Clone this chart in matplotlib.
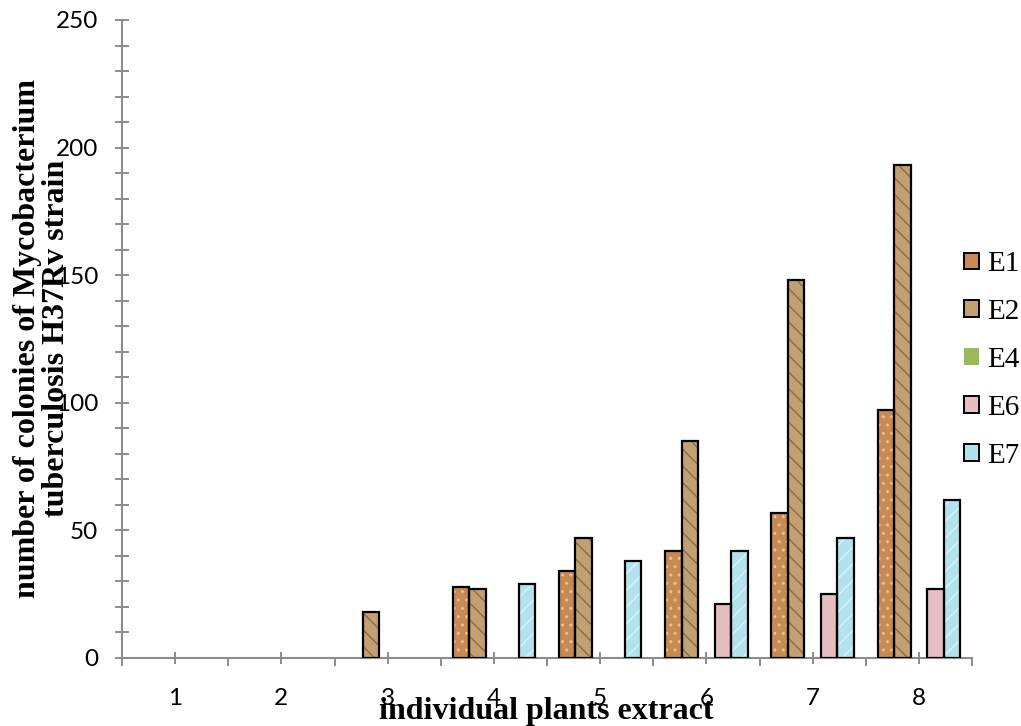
import matplotlib
matplotlib.use("Agg")
import matplotlib.pyplot as plt
import numpy as np
from matplotlib.ticker import MultipleLocator, FixedLocator
from matplotlib.patches import Patch

# ---- data ----
categories = ["1", "2", "3", "4", "5", "6", "7", "8"]
series_names = ["E1", "E2", "E4", "E6", "E7"]
E1 = [0, 0, 0, 28, 34, 42, 57, 97]
E2 = [0, 0, 18, 27, 47, 85, 148, 193]
E4 = [0, 0, 0, 0, 0, 0, 0, 0]
E6 = [0, 0, 0, 0, 0, 21, 25, 27]
E7 = [0, 0, 0, 29, 38, 42, 47, 62]
series_values = [E1, E2, E4, E6, E7]

face_colors = ["#C88A55", "#C3A074", "#9BBB59", "#E6BDC0", "#B2E2EE"]
hatch_colors = ["#EDC08F", "#8E6A43", "#9BBB59", "#EFCFD2", "#DDF3F8"]
hatches = ["..", "\\\\", None, None, "//"]

W, H = 1021, 726
fig = plt.figure(figsize=(W / 100, H / 100), dpi=100)
ax = fig.add_axes([122 / W, (H - 658) / H, 850 / W, (658 - 20) / H])

x = np.arange(len(categories))
bw = 0.155
for k, (vals, fc, hc, ht) in enumerate(zip(series_values, face_colors, hatch_colors, hatches)):
    pos = x + (k - 2) * bw
    plot_vals = np.array(vals, dtype=float)
    mask = plot_vals > 0
    if k == 2 or not mask.any():
        continue
    ax.bar(pos[mask], plot_vals[mask], width=bw, color=fc, edgecolor=hc if ht else fc,
           hatch=ht, linewidth=0, zorder=2)
    ax.bar(pos[mask], plot_vals[mask], width=bw, fill=False, edgecolor="black",
           linewidth=1.6, zorder=3)

ax.set_xlim(-0.5, 7.5)
ax.set_ylim(0, 250)

gray = "#8C8C8C"
for s in ["top", "right"]:
    ax.spines[s].set_visible(False)
for s in ["left", "bottom"]:
    ax.spines[s].set_color(gray)
    ax.spines[s].set_linewidth(1.5)

ax.yaxis.set_major_locator(MultipleLocator(50))
ax.yaxis.set_minor_locator(MultipleLocator(10))
ax.tick_params(axis="y", which="both", direction="inout", length=10, width=1.4, color=gray)
ax.tick_params(axis="y", which="major", pad=12, labelsize=17.5)

ax.xaxis.set_major_locator(FixedLocator(x))
ax.xaxis.set_minor_locator(FixedLocator(np.arange(-0.5, 8, 1.0)))
ax.set_xticklabels(categories)
ax.tick_params(axis="x", which="major", direction="inout", length=9, width=1.4, color=gray,
               pad=17, labelsize=17.5)
ax.tick_params(axis="x", which="minor", direction="out", length=6, width=1.4, color=gray)

for lab in ax.get_xticklabels() + ax.get_yticklabels():
    lab.set_fontfamily(["Lato", "DejaVu Sans"])

serif = ["Liberation Serif", "DejaVu Serif"]
fig.text(546 / W, 1 - 711 / H, "individual plants extract", ha="center", va="center",
         fontsize=23, fontweight="bold", family=serif)
fig.text(42 / W, 1 - 338 / H,
         "number of colonies of Mycobacterium\ntuberculosis H37Rv strain",
         rotation=90, ha="center", va="center", multialignment="center",
         fontsize=23, fontweight="bold", family=serif, linespacing=1.02)

handles = []
for name, fc, hc, ht in zip(series_names, face_colors, hatch_colors, hatches):
    if name == "E4":
        handles.append(Patch(facecolor=fc, edgecolor=fc, linewidth=0, label=name))
    else:
        handles.append(Patch(facecolor=fc, edgecolor="black", linewidth=1.4, label=name))
leg = fig.legend(handles=handles, loc="center left", bbox_to_anchor=(964 / W, 1 - 360 / H),
                 frameon=False, borderpad=0, borderaxespad=0, handlelength=0.5,
                 handleheight=0.5, handletextpad=0.3, labelspacing=0.75,
                 prop={"family": serif, "size": 21})

fig.savefig("out.png", dpi=100)
